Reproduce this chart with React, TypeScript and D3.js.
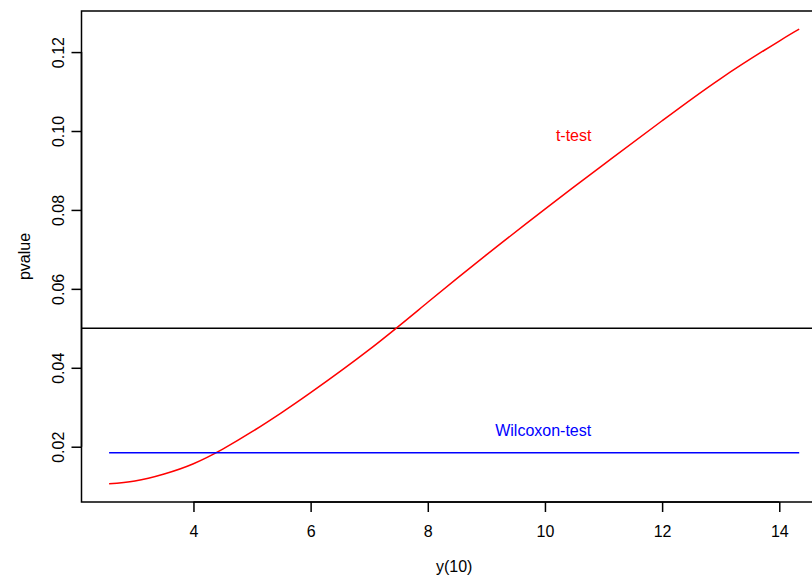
import { useEffect, useRef } from "react";
import * as d3 from "d3";

// y(10) values and the t-test p-values
const yValues = [2.56, 3, 3.5, 4, 4.5, 5, 5.5, 6, 7, 8, 9, 10, 11, 12, 13, 14, 14.34];
const tTestP = [
  0.0106, 0.0113, 0.0131, 0.0157, 0.0194, 0.0238, 0.0286, 0.0337, 0.0446, 0.0566, 0.0686,
  0.0802, 0.0915, 0.1026, 0.1133, 0.1228, 0.1258,
];
// Wilcoxon p-value stays the same for every y(10)
const wilcoxonP = [0.0185, 0.0185];
const wilcoxonX = [2.56, 14.34];
const cutoff = 0.05;

const xTicks = [4, 6, 8, 10, 12, 14];
const yTicks = [0.02, 0.04, 0.06, 0.08, 0.1, 0.12];

const labels = [
  { text: "t-test", x: 10.49, y: 0.099, color: "#ff0000" },
  { text: "Wilcoxon-test", x: 9.97, y: 0.0241, color: "#0000ff" },
];

const FONT = "'Liberation Sans', Arial, Helvetica, sans-serif";

// R-style 4% padding on each side of the data range
function padded(lo: number, hi: number): [number, number] {
  const pad = (hi - lo) * 0.04;
  return [lo - pad, hi + pad];
}

export default function App() {
  const svgRef = useRef<SVGSVGElement | null>(null);

  useEffect(() => {
    const width = 812;
    const height = 576;
    const margin = { top: 11, left: 81.5, bottom: 74, plotRight: 826.8 };

    const svg = d3.select(svgRef.current);
    svg.selectAll("*").remove();
    svg.attr("width", width).attr("height", height).attr("viewBox", `0 0 ${width} ${height}`);

    const x = d3
      .scaleLinear()
      .domain(padded(d3.min(yValues)!, d3.max(yValues)!))
      .range([margin.left, margin.plotRight]);

    const y = d3
      .scaleLinear()
      .domain(padded(d3.min(tTestP)!, d3.max(tTestP)!))
      .range([height - margin.bottom, margin.top]);

    const [px0, px1] = x.range();
    const [py0, py1] = y.range();

    svg
      .append("defs")
      .append("clipPath")
      .attr("id", "plot-clip")
      .append("rect")
      .attr("x", px0)
      .attr("y", py1)
      .attr("width", px1 - px0)
      .attr("height", py0 - py1);

    // abline at 0.05
    svg
      .append("line")
      .attr("clip-path", "url(#plot-clip)")
      .attr("x1", px0)
      .attr("x2", px1)
      .attr("y1", y(cutoff))
      .attr("y2", y(cutoff))
      .attr("stroke", "#000")
      .attr("stroke-width", 1.5);

    const line = d3
      .line<[number, number]>()
      .x((d) => x(d[0]))
      .y((d) => y(d[1]))
      .curve(d3.curveNatural);

    svg
      .append("path")
      .datum(d3.zip(yValues, tTestP) as [number, number][])
      .attr("fill", "none")
      .attr("stroke", "#ff0000")
      .attr("stroke-width", 1.5)
      .attr("d", line);

    svg
      .append("path")
      .datum(d3.zip(wilcoxonX, wilcoxonP) as [number, number][])
      .attr("fill", "none")
      .attr("stroke", "#0000ff")
      .attr("stroke-width", 1.5)
      .attr("d", line);

    svg
      .selectAll(".lbl")
      .data(labels)
      .enter()
      .append("text")
      .attr("class", "lbl")
      .attr("x", (d) => x(d.x))
      .attr("y", (d) => y(d.y))
      .attr("dy", "0.35em")
      .attr("text-anchor", "middle")
      .attr("font-family", FONT)
      .attr("font-size", 16)
      .attr("fill", (d) => d.color)
      .text((d) => d.text);

    // frame
    svg
      .append("rect")
      .attr("x", px0)
      .attr("y", py1)
      .attr("width", px1 - px0)
      .attr("height", py0 - py1)
      .attr("fill", "none")
      .attr("stroke", "#000")
      .attr("stroke-width", 1.5);

    const xAxis = svg
      .append("g")
      .attr("transform", `translate(0,${py0})`)
      .call(d3.axisBottom(x).tickValues(xTicks).tickSize(10).tickPadding(14).tickFormat(d3.format("d")));

    const yAxis = svg
      .append("g")
      .attr("transform", `translate(${px0},0)`)
      .call(d3.axisLeft(y).tickValues(yTicks).tickSize(10).tickFormat(d3.format(".2f")));

    for (const g of [xAxis, yAxis]) {
      g.select(".domain").attr("stroke-width", 1.5);
      g.selectAll(".tick line").attr("stroke-width", 1.5);
      g.selectAll("text").attr("font-family", FONT).attr("font-size", 16).attr("fill", "#000");
    }
    xAxis.select(".domain").attr("d", `M${x(xTicks[0])},0H${x(xTicks[xTicks.length - 1])}`);
    yAxis.select(".domain").attr("d", `M0,${y(yTicks[0])}V${y(yTicks[yTicks.length - 1])}`);

    yAxis
      .selectAll(".tick text")
      .attr("x", null)
      .attr("dy", null)
      .attr("text-anchor", "middle")
      .attr("dominant-baseline", "central")
      .attr("transform", "translate(-23,0) rotate(-90)");

    svg
      .append("text")
      .attr("x", (px0 + px1) / 2)
      .attr("y", 566)
      .attr("dy", "0.35em")
      .attr("text-anchor", "middle")
      .attr("font-family", FONT)
      .attr("font-size", 16)
      .text("y(10)");

    svg
      .append("text")
      .attr("transform", `translate(24,${(py0 + py1) / 2}) rotate(-90)`)
      .attr("dy", "0.35em")
      .attr("text-anchor", "middle")
      .attr("font-family", FONT)
      .attr("font-size", 16)
      .text("pvalue");
  }, []);

  return (
    <svg
      ref={svgRef}
      style={{ position: "fixed", left: 0, top: 0, background: "#fff", overflow: "hidden" }}
    />
  );
}
